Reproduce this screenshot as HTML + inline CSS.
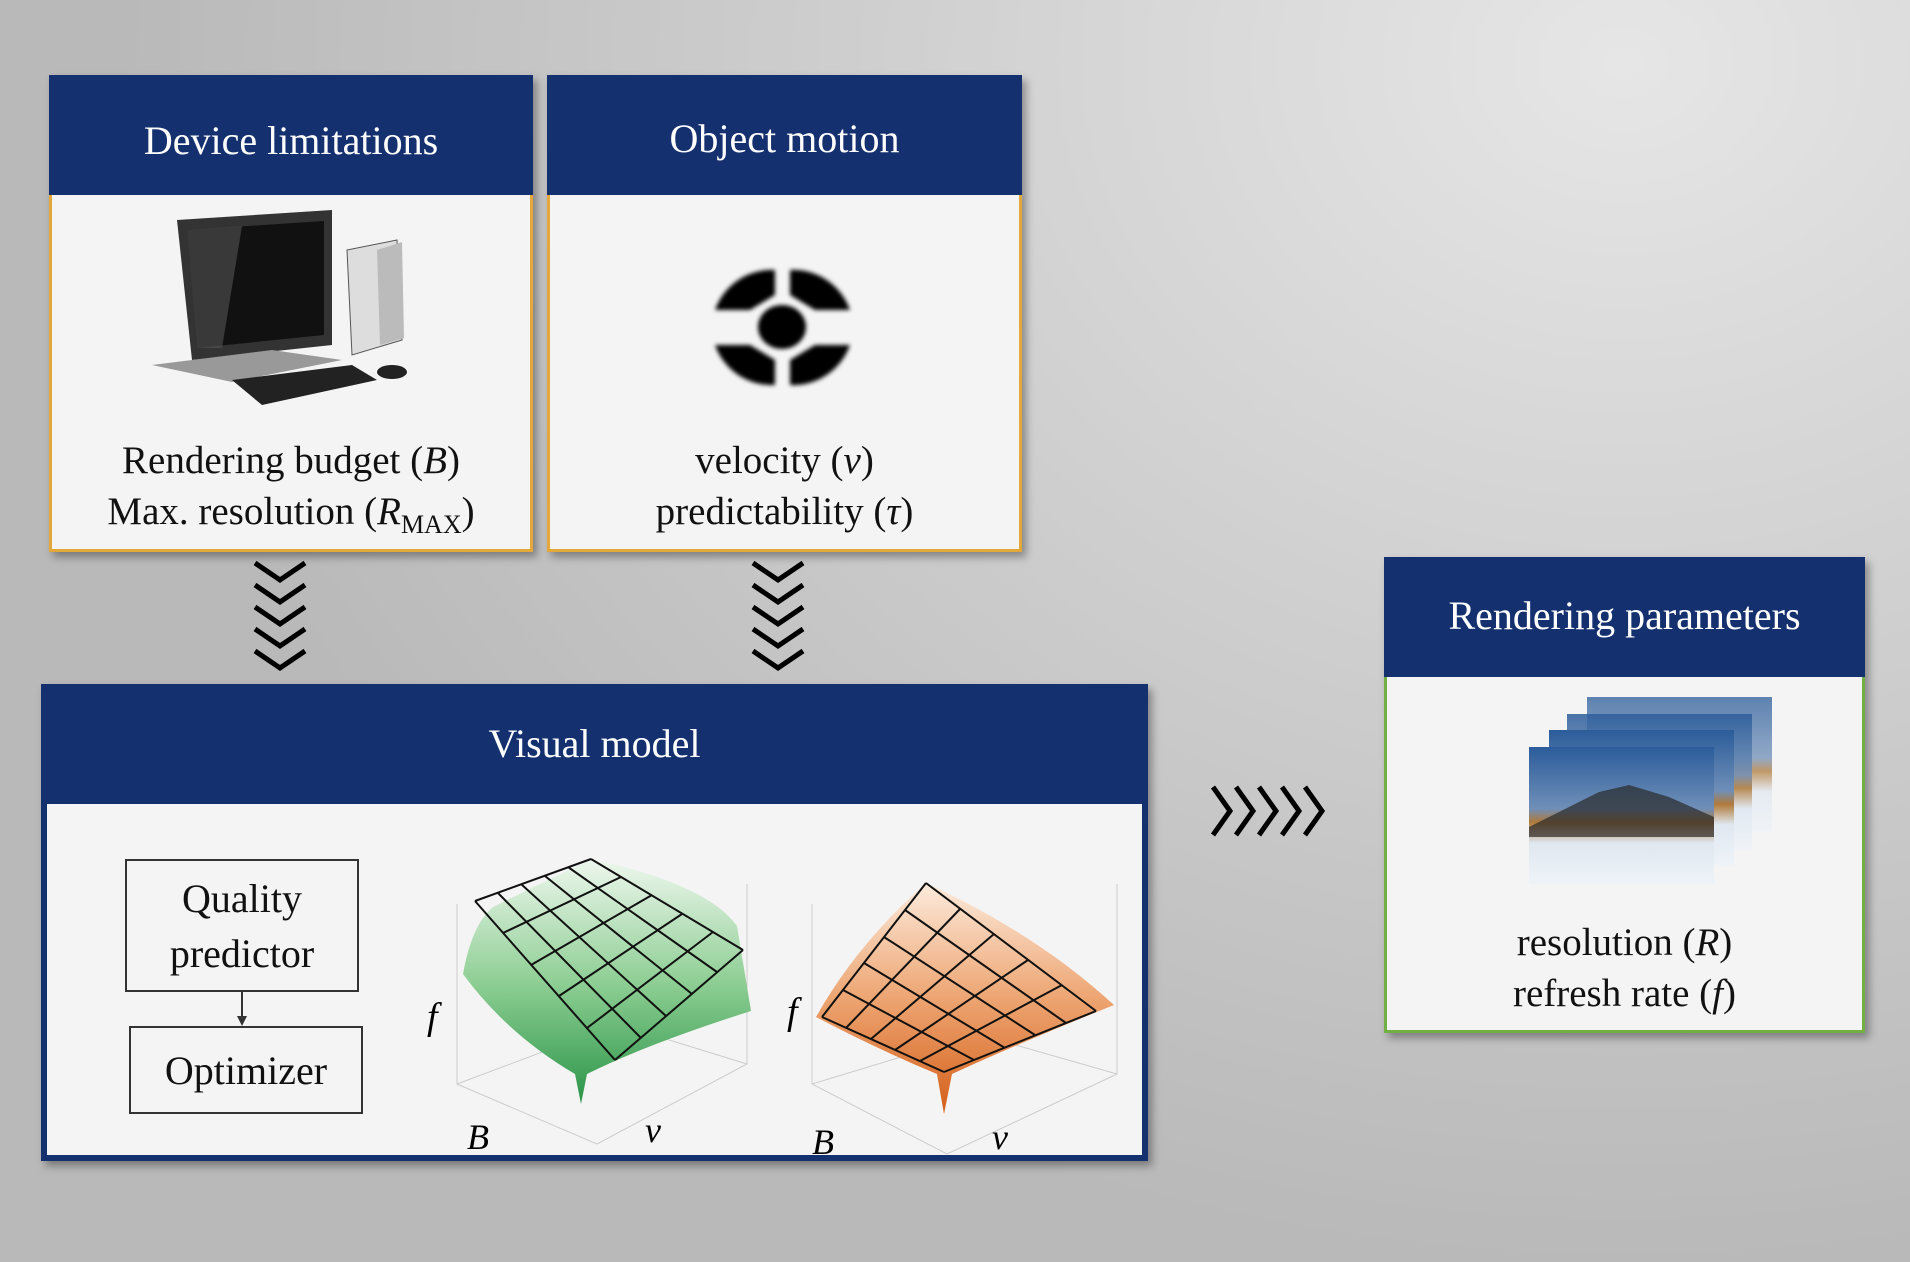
<!DOCTYPE html>
<html><head><meta charset="utf-8"><style>
html,body{margin:0;padding:0}
body{width:1910px;height:1262px;position:relative;overflow:hidden;font-family:"Liberation Serif",serif;
background:radial-gradient(ellipse 1500px 1200px at 85% 5%,#e6e6e6 0%,#cfcfcf 50%,#b9b9b9 100%);}
.box{position:absolute;background:#f4f4f4;box-shadow:4px 5px 8px rgba(0,0,0,.35);box-sizing:border-box}
.hd{position:absolute;left:0;right:0;top:0;background:#14306f;color:#fff;text-align:center;font-size:40px}
.txt{position:absolute;left:0;right:0;text-align:center;font-size:39px;color:#111;line-height:51px}
.sm{position:absolute;border:2px solid #333;background:#f4f4f4;font-size:40px;text-align:center;box-sizing:border-box;color:#111}
svg{position:absolute}
</style></head><body>

<div class="box" style="left:49px;top:75px;width:484px;height:477px;border:3px solid #e3a73a;border-top:none">
 <div class="hd" style="height:120px;line-height:132px;left:-3px;right:-3px">Device limitations</div>
 <svg style="left:100px;top:135px" width="300" height="220" viewBox="0 0 300 220">
  <polygon points="195,40 245,30 250,130 200,145" fill="#ddd" stroke="#555"/>
  <polygon points="225,40 250,32 252,128 228,135" fill="#bbb"/>
  <polygon points="25,10 180,0 180,135 40,150" fill="#333"/>
  <polygon points="35,20 172,11 172,125 45,138" fill="#111"/>
  <polygon points="35,20 90,16 70,138 45,138" fill="#555" opacity=".6"/>
  <polygon points="0,155 120,140 190,150 80,172" fill="#999"/>
  <polygon points="80,170 200,155 225,170 110,195" fill="#222"/>
  <ellipse cx="240" cy="162" rx="15" ry="7" fill="#222"/>
 </svg>
 <div class="txt" style="top:360px">Rendering budget (<i>B</i>)<br>Max. resolution (<i>R</i><sub style="font-size:26px">MAX</sub>)</div>
</div>

<div class="box" style="left:547px;top:75px;width:475px;height:477px;border:3px solid #e3a73a;border-top:none">
 <div class="hd" style="height:120px;line-height:128px;left:-3px;right:-3px">Object motion</div>
 <svg style="left:160px;top:190px" width="145" height="125" viewBox="0 0 145 125">
  <defs><filter id="b"><feGaussianBlur stdDeviation="2"/></filter></defs>
  <g filter="url(#b)" fill="#000">
   <path d="M65,5 A60,60 0 0 0 5,45 L40,45 L65,30Z"/>
   <path d="M80,5 A60,60 0 0 1 140,45 L105,45 L80,30Z"/>
   <path d="M65,120 A60,60 0 0 1 5,80 L40,80 L65,95Z"/>
   <path d="M80,120 A60,60 0 0 0 140,80 L105,80 L80,95Z"/>
   <ellipse cx="72" cy="62" rx="24" ry="22"/>
  </g>
 </svg>
 <div class="txt" style="top:360px">velocity (<i>v</i>)<br>predictability (<i>τ</i>)</div>
</div>

<svg style="left:250px;top:558px" width="60" height="120" viewBox="0 0 60 120"><g fill="none" stroke="#000" stroke-width="5">
<path d="M5,5 L30,22 L55,5"/><path d="M5,27 L30,44 L55,27"/><path d="M5,49 L30,66 L55,49"/><path d="M5,71 L30,88 L55,71"/><path d="M5,93 L30,110 L55,93"/></g></svg>
<svg style="left:748px;top:558px" width="60" height="120" viewBox="0 0 60 120"><g fill="none" stroke="#000" stroke-width="5">
<path d="M5,5 L30,22 L55,5"/><path d="M5,27 L30,44 L55,27"/><path d="M5,49 L30,66 L55,49"/><path d="M5,71 L30,88 L55,71"/><path d="M5,93 L30,110 L55,93"/></g></svg>
<svg style="left:1208px;top:783px" width="125" height="56" viewBox="0 0 125 56"><g fill="none" stroke="#000" stroke-width="5">
<path d="M5,4 L22,28 L5,52"/><path d="M28,4 L45,28 L28,52"/><path d="M51,4 L68,28 L51,52"/><path d="M74,4 L91,28 L74,52"/><path d="M97,4 L114,28 L97,52"/></g></svg>

<div class="box" style="left:41px;top:684px;width:1107px;height:477px;border:6px solid #14306f;border-top:none">
 <div class="hd" style="height:120px;line-height:120px;left:-6px;right:-6px">Visual model</div>
 <div class="sm" style="left:78px;top:175px;width:234px;height:133px;line-height:55px;padding-top:10px">Quality<br>predictor</div>
 <svg style="left:188px;top:308px" width="14" height="36"><line x1="7" y1="0" x2="7" y2="30" stroke="#333" stroke-width="2"/><path d="M2,24 L7,34 L12,24Z" fill="#333"/></svg>
 <div class="sm" style="left:82px;top:342px;width:234px;height:88px;line-height:86px">Optimizer</div>
 <svg style="left:370px;top:140px" width="380" height="330" viewBox="0 0 380 330">
  <defs><linearGradient id="g" x1="0" y1="0" x2="0" y2="1"><stop offset="0" stop-color="#eef7ee"/><stop offset=".5" stop-color="#8fcf95"/><stop offset="1" stop-color="#2a9447"/></linearGradient></defs>
  <g stroke="#ccc" fill="none"><path d="M40,80 L40,260 L180,320 L330,240 L330,60"/><path d="M40,260 L200,200 L330,240"/></g>
  <path d="M46,150 Q55,100 76,83 L174,35 Q290,60 320,102 L334,187 Q230,220 170,250 L164,280 L158,250 Q90,210 46,150Z" fill="url(#g)"/>
  <g stroke="#111" stroke-width="2" fill="none">
   <path d="M58,77L198,236M81,69L224,214M104,60L249,192M128,52L275,170M151,43L300,148M174,35L326,126"/>
   <path d="M58,77L174,35M86,109L204,53M114,141L235,71M142,172L265,90M170,204L296,108M198,236L326,126"/>
  </g>
  <text x="10" y="205" font-size="38" font-style="italic" font-family="Liberation Serif">f</text>
  <text x="50" y="325" font-size="36" font-style="italic" font-family="Liberation Serif">B</text>
  <text x="228" y="318" font-size="36" font-style="italic" font-family="Liberation Serif">v</text>
 </svg>
 <svg style="left:730px;top:140px" width="380" height="335" viewBox="0 0 380 335">
  <defs><linearGradient id="o" x1="0" y1="0" x2="0" y2="1"><stop offset="0" stop-color="#fcebdc"/><stop offset=".5" stop-color="#eda572"/><stop offset="1" stop-color="#d45e18"/></linearGradient></defs>
  <g stroke="#ccc" fill="none"><path d="M35,80 L35,260 L170,330 L340,250 L340,60"/><path d="M35,260 L200,210 L340,250"/></g>
  <path d="M39,193 Q80,120 149,59 Q260,110 337,181 Q240,220 175,250 L167,290 L160,250 Q100,225 39,193Z" fill="url(#o)"/>
  <g stroke="#111" stroke-width="2" fill="none">
   <path d="M45,193L167,248M66,166L197,236M87,139L228,224M107,113L258,211M128,86L289,199M149,59L319,187"/>
   <path d="M45,193L149,59M69,204L183,85M94,215L217,110M118,226L251,136M143,237L285,161M167,248L319,187"/>
  </g>
  <text x="10" y="200" font-size="38" font-style="italic" font-family="Liberation Serif">f</text>
  <text x="35" y="330" font-size="36" font-style="italic" font-family="Liberation Serif">B</text>
  <text x="215" y="325" font-size="36" font-style="italic" font-family="Liberation Serif">v</text>
 </svg>
</div>

<div class="box" style="left:1384px;top:557px;width:481px;height:476px;border:3px solid #72b043;border-top:none">
 <div class="hd" style="height:120px;line-height:118px;left:-3px;right:-3px">Rendering parameters</div>
 <svg style="left:142px;top:140px" width="245" height="195" viewBox="0 0 245 195">
  <defs><linearGradient id="s" x1="0" y1="0" x2="0" y2="1"><stop offset="0" stop-color="#2b5c9a"/><stop offset=".45" stop-color="#6f8fb8"/><stop offset=".55" stop-color="#b07a3a"/><stop offset=".7" stop-color="#dfe7f0"/><stop offset="1" stop-color="#eef3f8"/></linearGradient></defs>
  <rect x="58" y="0" width="185" height="135" fill="url(#s)" opacity=".75"/>
  <rect x="38" y="17" width="185" height="135" fill="url(#s)" opacity=".85"/>
  <rect x="20" y="33" width="185" height="135" fill="url(#s)"/>
  <rect x="0" y="50" width="185" height="137" fill="url(#s)"/>
  <path d="M0,130 L40,110 L70,95 L100,88 L140,100 L185,120 L185,140 L0,140Z" fill="#2a2a2a" opacity=".7"/>
 </svg>
 <div class="txt" style="top:360px">resolution (<i>R</i>)<br>refresh rate (<i>f</i>)</div>
</div>
</body></html>
